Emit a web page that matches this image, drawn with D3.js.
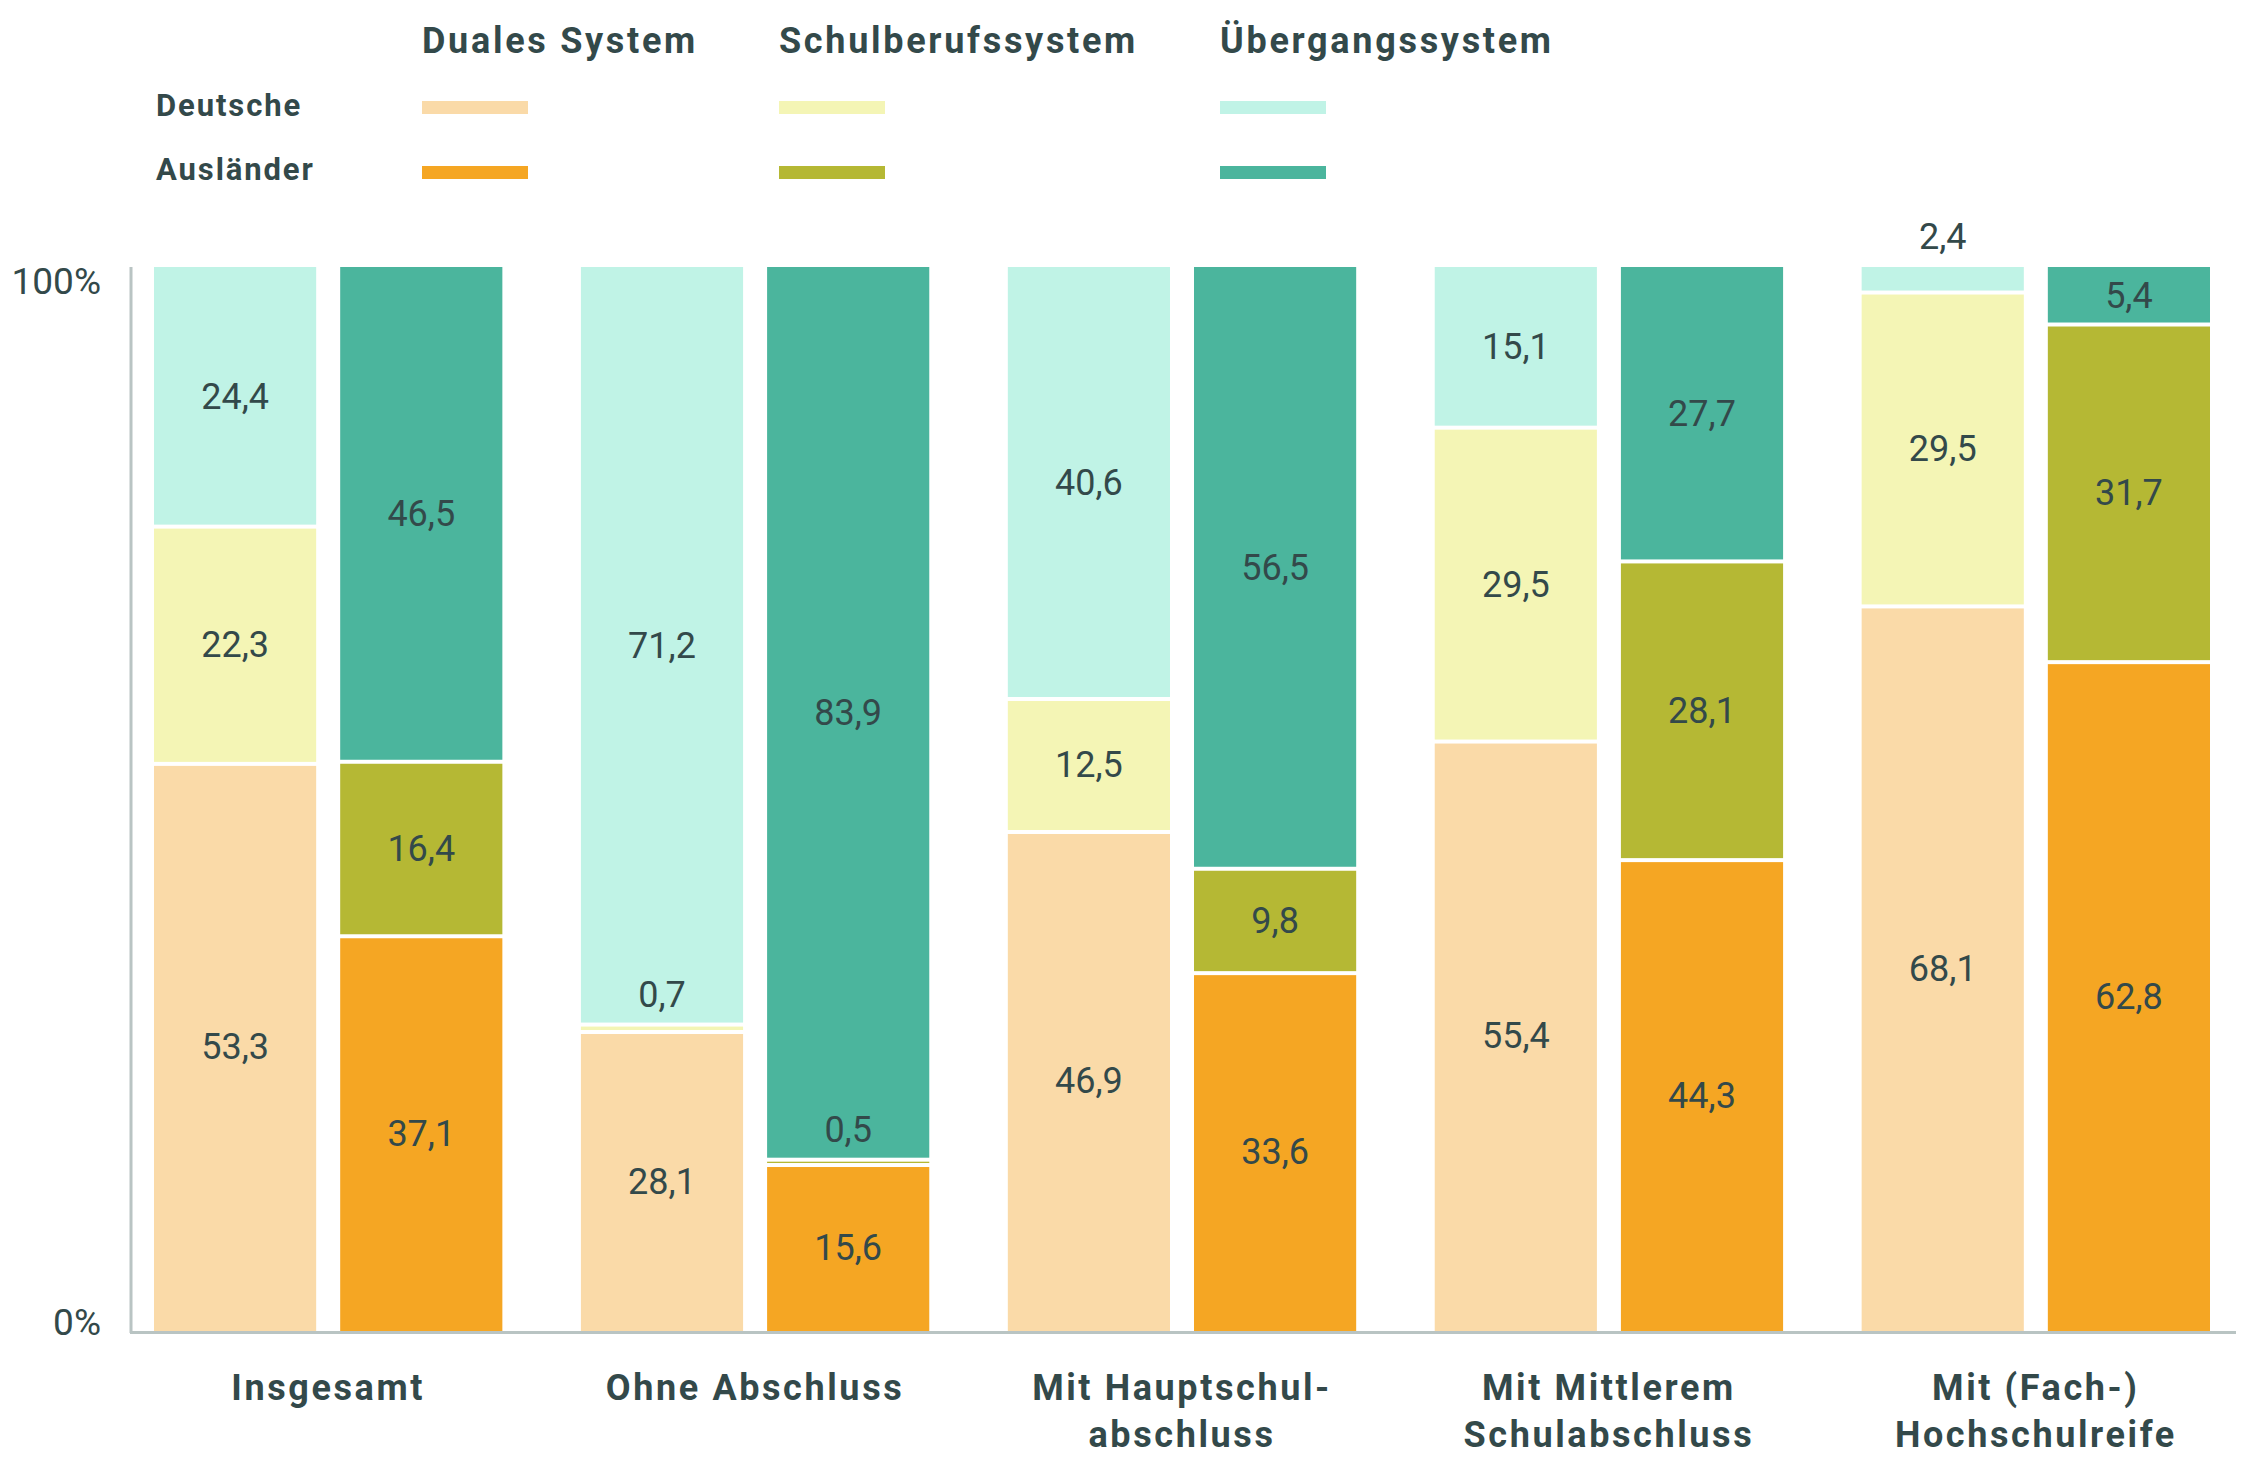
<!DOCTYPE html>
<html>
<head>
<meta charset="utf-8">
<script src="https://cdn.jsdelivr.net/npm/d3@7"></script>
<style>
  body { margin: 0; background: #fff; }
  svg { display: block; font-family: Roboto, "Noto Sans", sans-serif; }
</style>
</head>
<body>
<div id="chart"></div>
<script>
(function () {

	var categories = ["Insgesamt", "Ohne Abschluss", "Mit Hauptschulabschluss", "Mit Mittlerem Schulabschluss", "Mit (Fach-)Hochschulreife"];
	var categoryLines = [["Insgesamt"], ["Ohne Abschluss"], ["Mit Hauptschul-", "abschluss"], ["Mit Mittlerem", "Schulabschluss"], ["Mit (Fach-)", "Hochschulreife"]];
	var groups = ["Deutsche", "Ausländer"];
	var systems = ["Duales System", "Schulberufssystem", "Übergangssystem"];

	var deutscheDuales = [53.3, 28.1, 46.9, 55.4, 68.1];
	var deutscheSchul  = [22.3, 0.7, 12.5, 29.5, 29.5];
	var deutscheUeber  = [24.4, 71.2, 40.6, 15.1, 2.4];
	var auslDuales = [37.1, 15.6, 33.6, 44.3, 62.8];
	var auslSchul  = [16.4, 0.5, 9.8, 28.1, 31.7];
	var auslUeber  = [46.5, 83.9, 56.5, 27.7, 5.4];

	var yTicks = [0, 100];

	var colors = {
		"Deutsche": ["#fadaa8", "#f4f5b5", "#c0f3e6"],
		"Ausländer": ["#f5a623", "#b5b834", "#4bb59d"]
	};
	var textColor = "#33494a";
	var axisColor = "#b9c4c3";

	var seriesData = {
		"Deutsche": [deutscheDuales, deutscheSchul, deutscheUeber],
		"Ausländer": [auslDuales, auslSchul, auslUeber]
	};

	// one row per category + group
	var rows = [];
	categories.forEach(function(c, i) {
		groups.forEach(function(g) {
			var r = {category: c, group: g};
			systems.forEach(function(s, k) { r[s] = seriesData[g][k][i]; });
			rows.push(r);
		});
	});

	var width = 2245, height = 1463;
	var svg = d3.select('#chart').append('svg').attr('width', width).attr('height', height);

	var x0 = d3.scaleBand().domain(categories).range([154, 2210]).paddingInner(0.184).paddingOuter(0);
	var x1 = d3.scaleBand().domain(groups).range([0, x0.bandwidth()]).paddingInner(0.129).paddingOuter(0);
	var y = d3.scaleLinear().domain([0, 100]).range([1331, 267]);

	// percent stack, every bar fills up to 100 %
	var stacked = d3.stack().keys(systems).offset(d3.stackOffsetExpand)(rows);
	var gap = 2;
	var last = systems.length - 1;
	var fmt = function(v) { return d3.format(".1f")(v).replace(".", ","); };

	var segs = [];
	stacked.forEach(function(layer, k) {
		layer.forEach(function(d) {
			segs.push({k: k, lo: d[0] * 100, hi: d[1] * 100, row: d.data, value: d.data[systems[k]]});
		});
	});

	var top = d => y(d.hi) + (d.k < last ? gap : 0);
	var bottom = d => y(d.lo) - (d.k > 0 ? gap : 0);

	svg.append("g").selectAll("rect").data(segs).enter().append("rect")
		.attr("x", d => x0(d.row.category) + x1(d.row.group))
		.attr("width", x1.bandwidth())
		.attr("y", top)
		.attr("height", d => bottom(d) - top(d))
		.attr("fill", d => colors[d.row.group][d.k]);

	svg.append("g").selectAll("text").data(segs).enter().append("text")
		.attr("x", d => x0(d.row.category) + x1(d.row.group) + x1.bandwidth() / 2)
		.attr("y", d => d.value < 3 ? y(d.hi) - 30 : (y(d.lo) + y(d.hi)) / 2)
		.attr("text-anchor", "middle")
		.attr("dominant-baseline", "central")
		.attr("font-size", "36px")
		.attr("fill", textColor)
		.text(d => fmt(d.value));

	// axes
	var yAxis = svg.append("g").attr("transform", "translate(131,0)")
		.call(d3.axisLeft(y).tickValues(yTicks).tickSize(0).tickPadding(30).tickFormat(d => d + "%"));
	yAxis.select(".domain").remove();
	yAxis.selectAll("text")
		.attr("font-size", "37px")
		.attr("font-family", "Roboto, sans-serif")
		.attr("fill", textColor)
		.attr("dy", d => d == 100 ? "0.72em" : "0.1em");

	svg.append("line").attr("x1", 131).attr("x2", 131).attr("y1", 267).attr("y2", 1333)
		.attr("stroke", axisColor).attr("stroke-width", 3);
	svg.append("line").attr("x1", 130).attr("x2", 2236).attr("y1", 1332.5).attr("y2", 1332.5)
		.attr("stroke", axisColor).attr("stroke-width", 3);

	// category labels
	var catText = svg.append("g").selectAll("text").data(categories).enter().append("text")
		.attr("x", d => x0(d) + x0.bandwidth() / 2)
		.attr("y", 1400)
		.attr("text-anchor", "middle")
		.attr("font-size", "36px")
		.attr("font-weight", "bold")
		.attr("letter-spacing", "2.6px")
		.attr("fill", textColor);
	catText.each(function(d, i) {
		var t = d3.select(this);
		categoryLines[i].forEach(function(line, j) {
			t.append("tspan").attr("x", x0(d) + x0.bandwidth() / 2).attr("y", 1400 + j * 47).text(line);
		});
	});

	// legend
	var legendX = [422, 779, 1220];
	var legend = svg.append("g");
	systems.forEach(function(s, k) {
		legend.append("text").attr("x", legendX[k]).attr("y", 53)
			.attr("font-size", "36px").attr("font-weight", "bold").attr("letter-spacing", "2.7px")
			.attr("fill", textColor).text(s);
		groups.forEach(function(g, j) {
			legend.append("rect").attr("x", legendX[k]).attr("y", 101 + j * 65)
				.attr("width", 106).attr("height", 13).attr("fill", colors[g][k]);
		});
	});
	groups.forEach(function(g, j) {
		legend.append("text").attr("x", 156).attr("y", 116 + j * 64)
			.attr("font-size", "31px").attr("font-weight", "bold").attr("letter-spacing", "1.9px")
			.attr("fill", textColor).text(g);
	});

}());
</script>
</body>
</html>
